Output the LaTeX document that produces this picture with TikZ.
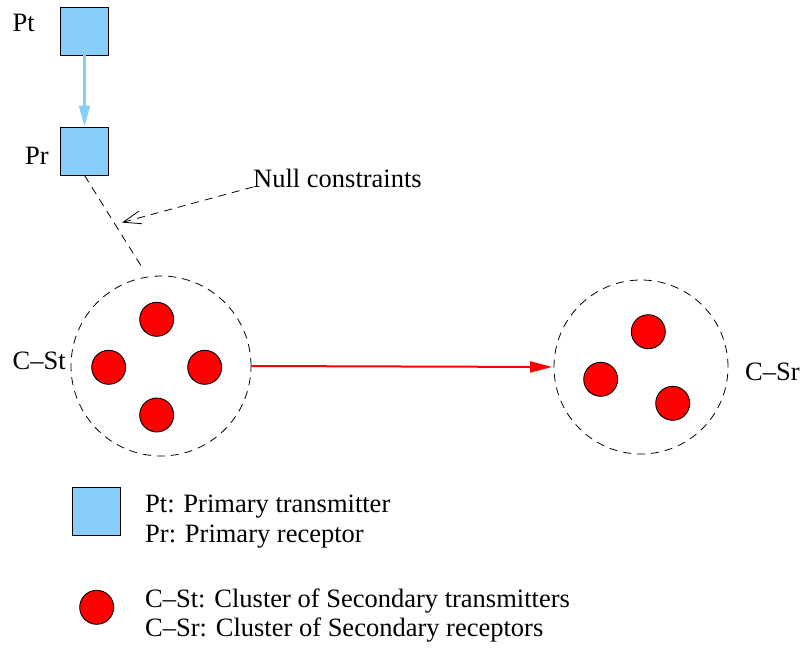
\documentclass[tikz,border=0pt]{standalone}
\usepackage{fontspec}
\setmainfont{Liberation Serif}
\usetikzlibrary{positioning,arrows.meta}
\definecolor{primblue}{RGB}{135,206,250}
\definecolor{secred}{RGB}{255,0,0}

\begin{document}
\begin{tikzpicture}[
        x=1pt, y=-1pt,
        font=\fontsize{26.5}{30}\selectfont,
        primary/.style={draw, fill=primblue, minimum size=48pt, inner sep=0pt, line width=0.9pt},
        secondary/.style={circle, draw, fill=secred, minimum size=34pt, inner sep=0pt, line width=0.9pt},
        cluster/.style={circle, draw, dash pattern=on 8pt off 6pt, inner sep=0pt, line width=0.8pt},
        tag/.style={inner sep=0pt, anchor=base west}
    ]
        \useasboundingbox (0,0) rectangle (801,650);

        % Primary transmitter and receptor
        \node[primary] (pt) at (84.5,31) {};
        \node[primary] (pr) at (84.5,151) {};
        \node[tag] (ptname) at (12.5,32) {Pt};
        \node[tag] (prname) at (25,165) {Pr};
        \draw[-{Triangle[length=21pt,width=11pt]}, primblue, line width=2.4pt] (pt) -- (pr);

        % Secondary clusters
        \node[cluster, minimum size=180pt] (cst) at (161,366) {};
        \node[cluster, minimum size=174pt] (csr) at (641,367) {};
        \node[tag] (cstname) at (12.5,369) {C--St};
        \node[tag] (csrname) at (745,380) {C--Sr};

        \node[secondary] (st1) at (156.7,319.3) {};
        \node[secondary] (st2) at (108.7,367.3) {};
        \node[secondary] (st3) at (204.7,367.3) {};
        \node[secondary] (st4) at (156.7,415) {};

        \node[secondary] (sr1) at (648.3,331.7) {};
        \node[secondary] (sr2) at (600.7,379.3) {};
        \node[secondary] (sr3) at (672.7,403.3) {};

        \draw[-{Triangle[length=22pt,width=11pt]}, secred, line width=2pt, shorten >=1.5pt] (cst.east) -- (csr.west);

        % Null constraints
        \coordinate (nullend) at (143,269);
        \coordinate (nulltip) at (122,222.5);
        \node[tag] (nulltxt) at (253,187) {Null constraints};
        \draw[dash pattern=on 8pt off 6pt, line width=0.8pt] (pr.south) -- (nullend);
        \draw[dash pattern=on 8pt off 6pt, line width=0.8pt, -{Straight Barb[length=18pt,width=13pt]}] (nulltxt.base west) -- (nulltip);

        % Legend
        \node[primary] (keysq) at (96.7,511.3) {};
        \node[secondary] (keydot) at (96.7,607.3) {};
        \node[tag] (keypt) at (145,512.7) {Pt: Primary transmitter};
        \node[tag] (keypr) at (145,542.7) {Pr: Primary receptor};
        \node[tag] (keyst) at (145,607.5) {C--St: Cluster of Secondary transmitters};
        \node[tag] (keysr) at (145,636.7) {C--Sr: Cluster of Secondary receptors};

    \end{tikzpicture}
\end{document}
